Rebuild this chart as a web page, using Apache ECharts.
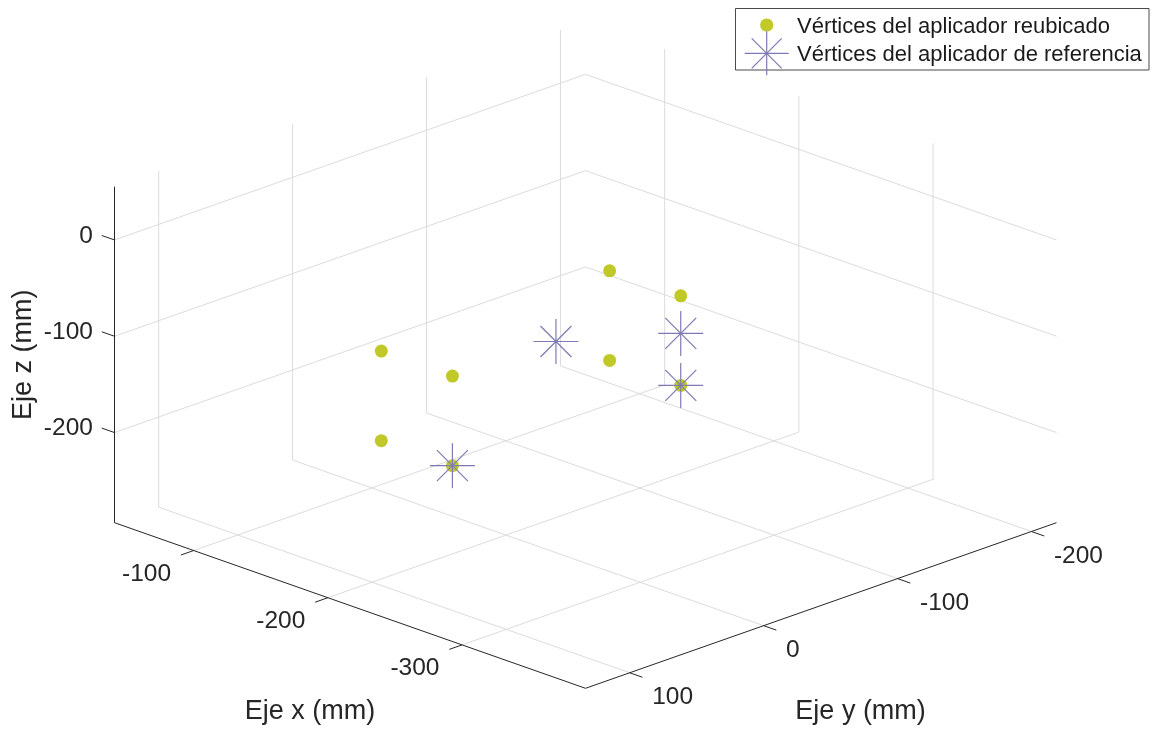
<!DOCTYPE html>
<html>
<head>
<meta charset="utf-8">
<script src="https://cdn.jsdelivr.net/npm/echarts@6/dist/echarts.min.js"></script>
<style>
  html, body { margin: 0; padding: 0; background: #ffffff; }
  #chart { width: 1159px; height: 730px; }
</style>
</head>
<body>
<div id="chart"></div>
<script>
// ---- Axis limits and ticks (mm) ----
const X_LIM = [-392, -41];
const Y_LIM = [-218.7, 133];
const Z_LIM = [-293.6, 55.3];
const X_TICKS = [-300, -200, -100];
const Y_TICKS = [-200, -100, 0, 100];
const Z_TICKS = [-200, -100, 0];
const X_TITLE = 'Eje x (mm)';
const Y_TITLE = 'Eje y (mm)';
const Z_TITLE = 'Eje z (mm)';
const NAME_REUB = 'Vértices del aplicador reubicado';
const NAME_REF = 'Vértices del aplicador de referencia';

// ---- Relocated applicator vertices (mm) ----
const reubX = [-149, -202, -149, -202, -149, -202, -149, -202];
const reubY = [42, 42, 42, 42, -128.5, -128.5, -128.5, -128.5];
const reubZ = [-107, -107, -200, -200, -107, -107, -200, -200];

// ---- Reference applicator vertices (mm) ----
const refX = [-202, -202, -202, -109];
const refY = [42, -128.5, -128.5, -128.5];
const refZ = [-200, -200, -146, -200];

// ---- Orthographic view of the axes box onto a 2D plane ----
// h: horizontal (-1 .. 1), v: vertical (0 at the front-bottom corner)
const DEPTH_RISE = 0.3516;  // rise of the floor edges per unit of box depth
const Z_HEIGHT = 0.7134;    // height of the box in plane units
function project(x, y, z) {
  const xn = (x - X_LIM[0]) / (X_LIM[1] - X_LIM[0]);
  const yb = (Y_LIM[1] - y) / (Y_LIM[1] - Y_LIM[0]);
  const zn = (z - Z_LIM[0]) / (Z_LIM[1] - Z_LIM[0]);
  return [yb - xn, DEPTH_RISE * (xn + yb) + Z_HEIGHT * zn];
}
function seg(a, b) {
  const p = project(a[0], a[1], a[2]);
  const q = project(b[0], b[1], b[2]);
  return [p[0], p[1], q[0], q[1]];
}

const [x0, x1] = X_LIM, [y0, y1] = Y_LIM, [z0, z1] = Z_LIM;

// Grid lines on the two back walls and on the floor
const gridSegs = [];
Z_TICKS.forEach(z => {
  gridSegs.push(seg([x1, y1, z], [x1, y0, z]));
  gridSegs.push(seg([x1, y0, z], [x0, y0, z]));
});
Y_TICKS.forEach(y => {
  gridSegs.push(seg([x1, y, z0], [x1, y, z1]));
  gridSegs.push(seg([x0, y, z0], [x1, y, z0]));
});
X_TICKS.forEach(x => {
  gridSegs.push(seg([x, y0, z0], [x, y0, z1]));
  gridSegs.push(seg([x, y1, z0], [x, y0, z0]));
});

// Axis lines and tick marks
const TICK = 9.5;
const axisSegs = [
  seg([x1, y1, z0], [x1, y1, z1]),
  seg([x1, y1, z0], [x0, y1, z0]),
  seg([x0, y1, z0], [x0, y0, z0])
];
Z_TICKS.forEach(z => axisSegs.push(seg([x1, y1, z], [x1 + TICK, y1, z])));
X_TICKS.forEach(x => axisSegs.push(seg([x, y1, z0], [x, y1 + TICK, z0])));
Y_TICKS.forEach(y => axisSegs.push(seg([x0, y, z0], [x0 - TICK, y, z0])));

// Tick labels: anchor on the axis, text offset in pixels per axis
const LABEL_STYLE = {
  x: { dx: -22.6, dy: 23.3, align: 'right' },
  y: { dx: 22.5, dy: 24.6, align: 'left' },
  z: { dx: -21.6, dy: -4, align: 'right' }
};
const tickLabels = [];
X_TICKS.forEach(x => tickLabels.push({ p: project(x, y1, z0), text: String(x), axis: 'x' }));
Y_TICKS.forEach(y => tickLabels.push({ p: project(x0, y, z0), text: String(y), axis: 'y' }));
Z_TICKS.forEach(z => tickLabels.push({ p: project(x1, y1, z), text: String(z), axis: 'z' }));

// Axis titles, anchored at the middle of each axis
const titles = [
  { p: project((x0 + x1) / 2, y1, z0), text: X_TITLE, dx: -40, dy: 106.5, rot: 0 },
  { p: project(x0, (y0 + y1) / 2, z0), text: Y_TITLE, dx: 39.6, dy: 106.5, rot: 0 },
  { p: project(x1, y1, (z0 + z1) / 2), text: Z_TITLE, dx: -91.3, dy: 0, rot: Math.PI / 2 }
];

const reubPts = reubX.map((x, i) => project(x, reubY[i], reubZ[i]));
const refPts = refX.map((x, i) => project(x, refY[i], refZ[i]));

const FONT = '"Liberation Sans", Arial, Helvetica, sans-serif';
const TEXT_COLOR = '#262626';
const GREEN = '#c1c928';
const PURPLE = '#7d7ab3';

function segmentSeries(segs, color, width, z) {
  return {
    type: 'custom', coordinateSystem: 'cartesian2d', silent: true, z: z,
    data: segs, encode: { x: [0, 2], y: [1, 3] },
    renderItem: (params, api) => {
      const a = api.coord([api.value(0), api.value(1)]);
      const b = api.coord([api.value(2), api.value(3)]);
      return { type: 'line', shape: { x1: a[0], y1: a[1], x2: b[0], y2: b[1] },
               style: { stroke: color, lineWidth: width } };
    }
  };
}

// Eight-armed star marker ('+' overlaid with 'x')
function asteriskShape(cx, cy, r, d, color, z) {
  const mk = (x1, y1, x2, y2) => {
    const el = { type: 'line', shape: { x1, y1, x2, y2 },
                 style: { stroke: color, lineWidth: 1.2 } };
    if (z !== undefined) el.z = z;
    return el;
  };
  return [
    mk(cx - r, cy, cx + r, cy),
    mk(cx, cy - r, cx, cy + r),
    mk(cx - d, cy - d, cx + d, cy + d),
    mk(cx - d, cy + d, cx + d, cy - d)
  ];
}

const chart = echarts.init(document.getElementById('chart'), null, { renderer: 'canvas' });
chart.setOption({
  animation: false,
  backgroundColor: '#ffffff',
  grid: { left: 114.5, right: 102.5, top: 21.1, bottom: 41.7, containLabel: false },
  xAxis: { type: 'value', min: -1, max: 1, show: false },
  yAxis: { type: 'value', min: 0, max: 2 * DEPTH_RISE + Z_HEIGHT, show: false },
  series: [
    segmentSeries(gridSegs, '#dcdcdc', 1, 1),
    segmentSeries(axisSegs, '#262626', 1, 2),
    {
      type: 'custom', coordinateSystem: 'cartesian2d', silent: true, z: 3,
      data: tickLabels.map(t => t.p),
      renderItem: (params, api) => {
        const t = tickLabels[params.dataIndex];
        const s = LABEL_STYLE[t.axis];
        const c = api.coord([api.value(0), api.value(1)]);
        return { type: 'text', x: c[0] + s.dx, y: c[1] + s.dy,
          style: { text: t.text, fill: TEXT_COLOR, font: '24.5px ' + FONT,
                   align: s.align, verticalAlign: 'middle' } };
      }
    },
    {
      type: 'custom', coordinateSystem: 'cartesian2d', silent: true, z: 3,
      data: titles.map(t => t.p),
      renderItem: (params, api) => {
        const t = titles[params.dataIndex];
        const c = api.coord([api.value(0), api.value(1)]);
        return { type: 'text', x: c[0] + t.dx, y: c[1] + t.dy, rotation: t.rot,
          style: { text: t.text, fill: TEXT_COLOR, font: '27px ' + FONT,
                   align: 'center', verticalAlign: 'middle' } };
      }
    },
    {
      name: NAME_REUB, type: 'scatter', z: 4,
      data: reubPts, symbol: 'circle', symbolSize: 13,
      itemStyle: { color: GREEN, opacity: 1 }
    },
    {
      name: NAME_REF, type: 'custom', coordinateSystem: 'cartesian2d', z: 5,
      data: refPts,
      renderItem: (params, api) => {
        const c = api.coord([api.value(0), api.value(1)]);
        return { type: 'group', children: asteriskShape(c[0], c[1], 22.5, 15.5, PURPLE) };
      }
    }
  ],
  graphic: [
    { type: 'rect', z: 10, shape: { x: 735.5, y: 8.5, width: 413.5, height: 61.5 },
      style: { fill: '#ffffff', stroke: '#4a4a4a', lineWidth: 1 } },
    { type: 'circle', z: 11, shape: { cx: 766.7, cy: 25, r: 6.6 }, style: { fill: GREEN } }
  ].concat(asteriskShape(766.7, 53.3, 22, 15, PURPLE, 12)).concat([
    { type: 'text', z: 11, x: 797, y: 26.7,
      style: { text: NAME_REUB, fill: '#1a1a1a', font: '22px ' + FONT, align: 'left', verticalAlign: 'middle' } },
    { type: 'text', z: 11, x: 797, y: 55,
      style: { text: NAME_REF, fill: '#1a1a1a', font: '22px ' + FONT, align: 'left', verticalAlign: 'middle' } }
  ])
});
</script>
</body>
</html>
